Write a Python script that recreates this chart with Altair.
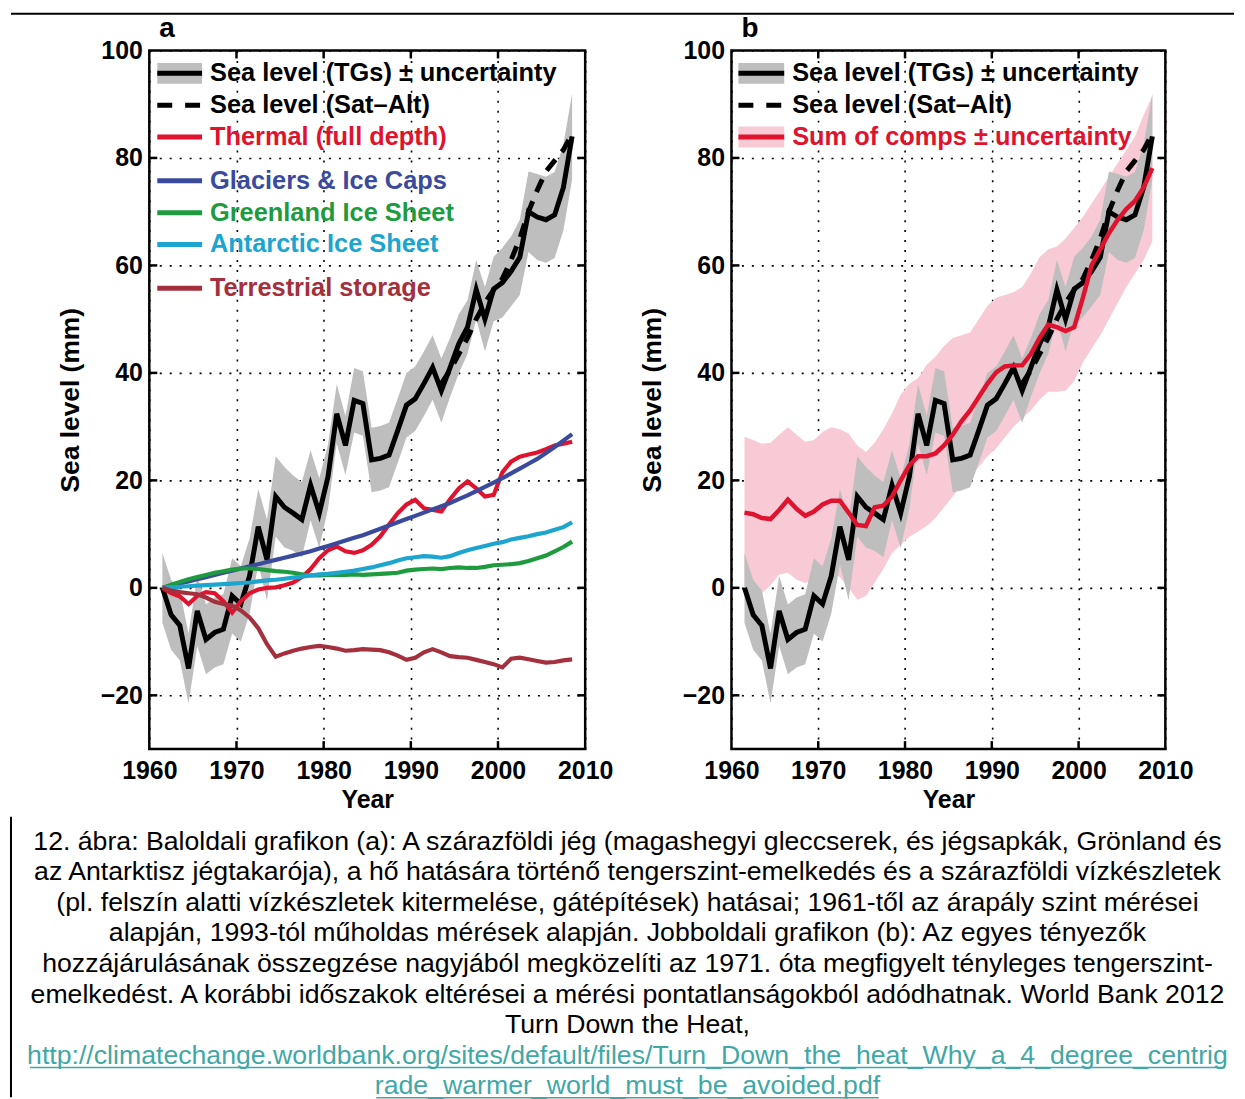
import altair as alt
import pandas as pd

# ---------------- data ----------------
years = list(range(1961, 2009))

tg = [0.0, -5.0, -7.0, -15.0, -4.3, -9.6, -8.3, -7.7, -1.5, -3.0,
      2.2, 11.4, 5.2, 17.0, 15.0, 13.9, 12.7, 19.1, 13.9, 20.7,
      32.4, 26.5, 34.9, 34.3, 23.8, 24.1, 24.7, 29.3, 34.0, 35.2,
      38.0, 41.0, 36.7, 41.0, 45.4, 48.5, 55.5, 50.0, 55.6, 56.8,
      58.9, 61.5, 70.0, 69.0, 68.5, 69.4, 74.5, 84.0]
tg_unc = [6.5, 6.5, 6.5, 6.5, 6.5, 6.5, 6.5, 6.5, 7.0, 7.0,
          7.0, 7.0, 7.5, 7.5, 7.5, 7.0, 7.0, 6.5, 6.5, 6.0,
          5.5, 5.5, 6.0, 6.0, 6.0, 6.0, 6.0, 6.0, 6.0, 6.0,
          6.0, 6.0, 6.0, 5.5, 5.5, 5.0, 5.5, 6.0, 6.0, 6.5,
          6.5, 7.0, 7.5, 8.0, 8.0, 8.0, 8.0, 8.0]

sat_years = list(range(1993, 2009))
sat = [38.0, 40.5, 43.5, 46.5, 50.0, 53.0, 55.5, 57.5, 61.0, 65.0,
       70.0, 74.0, 77.5, 79.5, 81.5, 84.5]

thermal = [0.0, -1.0, -1.6, -3.0, -1.5, -0.8, -1.0, -2.5, -4.6, -2.5,
           -1.0, -0.3, 0.0, 0.1, 0.5, 1.0, 2.0, 3.5, 5.5, 7.0,
           7.7, 6.8, 6.5, 7.0, 8.0, 9.6, 11.8, 13.9, 15.5, 16.4,
           14.8, 14.5, 14.2, 16.5, 18.5, 19.8, 18.5, 17.0, 17.3, 21.5,
           23.5, 24.4, 24.8, 25.2, 25.8, 26.5, 26.8, 27.2]
glaciers = [0.0, 0.4, 0.8, 1.2, 1.6, 2.0, 2.4, 2.8, 3.2, 3.6,
            4.0, 4.4, 4.8, 5.2, 5.6, 6.0, 6.4, 6.8, 7.3, 7.8,
            8.3, 8.8, 9.3, 9.8, 10.4, 11.0, 11.6, 12.2, 12.8, 13.4,
            14.0, 14.6, 15.2, 15.8, 16.5, 17.2, 18.0, 18.8, 19.6, 20.4,
            21.3, 22.2, 23.1, 24.0, 25.1, 26.2, 27.4, 28.6]
greenland = [0.0, 0.6, 1.1, 1.6, 2.0, 2.4, 2.8, 3.1, 3.4, 3.6,
             3.6, 3.5, 3.3, 3.1, 3.0, 2.8, 2.5, 2.3, 2.3, 2.4,
             2.4, 2.4, 2.5, 2.4, 2.5, 2.6, 2.7, 2.8, 3.2, 3.4,
             3.5, 3.6, 3.5, 3.7, 3.8, 3.7, 3.7, 3.9, 4.2, 4.3,
             4.4, 4.6, 5.0, 5.5, 6.0, 6.8, 7.6, 8.6]
antarctic = [0.0, 0.1, 0.2, 0.3, 0.4, 0.5, 0.6, 0.7, 0.8, 0.9,
             1.0, 1.2, 1.4, 1.5, 1.7, 1.9, 2.1, 2.3, 2.5, 2.6,
             2.8, 3.0, 3.2, 3.5, 3.8, 4.2, 4.6, 5.1, 5.5, 5.7,
             5.9, 5.8, 5.6, 5.9, 6.5, 7.0, 7.4, 7.8, 8.2, 8.5,
             9.0, 9.3, 9.6, 10.0, 10.3, 10.8, 11.3, 12.2]
terrestrial = [0.0, -0.5, -0.8, -1.0, -1.2, -1.8, -2.6, -3.0, -3.3, -4.2,
               -5.5, -7.5, -10.5, -12.8, -12.2, -11.7, -11.3, -11.0, -10.8, -11.0,
               -11.3, -11.7, -11.6, -11.4, -11.5, -11.6, -12.0, -12.6, -13.4, -13.0,
               -12.0, -11.4, -12.0, -12.7, -12.9, -13.0, -13.4, -13.8, -14.2, -14.8,
               -13.2, -13.0, -13.3, -13.6, -13.9, -13.8, -13.5, -13.3]

comps_sum = [14.0, 13.7, 13.0, 12.8, 14.5, 16.4, 14.7, 13.4, 14.2, 15.5,
             16.2, 16.2, 14.0, 11.7, 11.5, 15.0, 15.3, 17.0, 20.0, 22.8,
             24.5, 24.5, 25.0, 26.5, 28.5, 31.0, 33.0, 35.5, 38.0, 40.1,
             41.2, 41.4, 41.4, 43.5, 46.5, 49.0, 48.5, 47.8, 48.5, 54.0,
             60.0, 63.0, 66.0, 68.5, 70.5, 72.0, 74.5, 78.1]
comps_lo = [-0.5, -0.8, -1.0, 0.5, 2.5, 2.8, 1.5, 0.9, 1.5, 2.5,
            2.8, 2.0, 0.0, -2.2, -1.5, 1.0, 3.5, 6.5, 8.0, 9.5,
            10.5, 11.5, 13.0, 15.0, 17.0, 19.0, 20.7, 22.5, 24.5, 26.0,
            28.0, 30.0, 31.5, 33.0, 35.0, 36.5, 36.5, 36.7, 38.5, 42.0,
            44.5, 47.0, 50.0, 53.0, 56.0, 58.5, 61.0, 64.5]
comps_hi = [28.1, 27.5, 26.8, 27.0, 28.5, 29.9, 28.5, 27.2, 27.5, 29.0,
            29.9, 29.5, 28.7, 26.5, 25.3, 27.0, 29.5, 32.5, 36.0, 38.0,
            39.0, 41.5, 43.0, 45.0, 46.5, 47.0, 47.5, 50.0, 52.5, 54.0,
            54.5, 55.0, 56.0, 58.5, 61.5, 63.0, 63.5, 65.0, 67.0, 69.0,
            71.5, 74.0, 76.5, 79.0, 81.5, 84.0, 88.0, 91.5]

X_TICKS = [1960, 1970, 1980, 1990, 2000, 2010]
Y_TICKS = [-20, 0, 20, 40, 60, 80, 100]
INNER_X = [1970, 1980, 1990, 2000]
INNER_Y = [-20, 0, 20, 40, 60, 80]

LEGEND_A = ["Sea level (TGs) \u00b1 uncertainty", "Sea level (Sat\u2013Alt)",
            "Thermal (full depth)", "Glaciers & Ice Caps", "Greenland Ice Sheet",
            "Antarctic Ice Sheet", "Terrestrial storage"]
LEGEND_B = ["Sea level (TGs) \u00b1 uncertainty", "Sea level (Sat\u2013Alt)",
            "Sum of comps \u00b1 uncertainty"]

CAPTION = [
    "12. \u00e1bra: Baloldali grafikon (a): A sz\u00e1razf\u00f6ldi j\u00e9g (magashegyi gleccserek, \u00e9s j\u00e9gsapk\u00e1k, Gr\u00f6nland \u00e9s",
    "az Antarktisz j\u00e9gtakar\u00f3ja), a h\u0151 hat\u00e1s\u00e1ra t\u00f6rt\u00e9n\u0151 tengerszint-emelked\u00e9s \u00e9s a sz\u00e1razf\u00f6ldi v\u00edzk\u00e9szletek",
    "(pl. felsz\u00edn alatti v\u00edzk\u00e9szletek kitermel\u00e9se, g\u00e1t\u00e9p\u00edt\u00e9sek) hat\u00e1sai; 1961-t\u0151l az \u00e1rap\u00e1ly szint m\u00e9r\u00e9sei",
    "alapj\u00e1n, 1993-t\u00f3l m\u0171holdas m\u00e9r\u00e9sek alapj\u00e1n. Jobboldali grafikon (b): Az egyes t\u00e9nyez\u0151k",
    "hozz\u00e1j\u00e1rul\u00e1s\u00e1nak \u00f6sszegz\u00e9se nagyj\u00e1b\u00f3l megk\u00f6zel\u00edti az 1971. \u00f3ta megfigyelt t\u00e9nyleges tengerszint-",
    "emelked\u00e9st. A kor\u00e1bbi id\u0151szakok elt\u00e9r\u00e9sei a m\u00e9r\u00e9si pontatlans\u00e1gokb\u00f3l ad\u00f3dhatnak. World Bank 2012",
    "Turn Down the Heat,",
]
LINK = [
    "http://climatechange.worldbank.org/sites/default/files/Turn_Down_the_heat_Why_a_4_degree_centrig",
    "rade_warmer_world_must_be_avoided.pdf",
]

# ---------------- styling ----------------
FONT = "Liberation Sans"
RED = "#E0132E"
BLUE = "#3A4A9C"
GREEN = "#1E9B3E"
CYAN = "#1CA5CF"
BROWN = "#A3303C"
GREY = "#BEBEBE"
PINK = "#F8CAD5"
TEAL = "#3FA8A6"

W_A, W_B, H = 438, 436, 702
LINE_H = 30.75
CAP_FS = 26.8

XS = alt.Scale(domain=[1960, 2010], nice=False, zero=False)
YS = alt.Scale(domain=[-30, 100], nice=False, zero=False)


def x_axis():
    return alt.Axis(values=X_TICKS, format="d", title="Year",
                    labelFont=FONT, labelFontSize=25, labelFontWeight="bold",
                    labelColor="black", labelPadding=10, labelFlush=False,
                    labelOverlap=False, ticks=False, tickSize=0, domain=False,
                    grid=True, gridColor="black", gridDash=[2, 8], gridWidth=1.6,
                    gridOpacity=1, titleFont=FONT, titleFontSize=25,
                    titleFontWeight="bold", titleColor="black", titlePadding=4)


def y_axis():
    return alt.Axis(values=Y_TICKS, format="d", title="Sea level (mm)",
                    labelFont=FONT, labelFontSize=25, labelFontWeight="bold",
                    labelColor="black", labelPadding=7, labelOverlap=False,
                    ticks=False, tickSize=0, domain=False,
                    grid=True, gridColor="black", gridDash=[2, 8], gridWidth=1.6,
                    gridOpacity=1, titleFont=FONT, titleFontSize=26.5,
                    titleFontWeight="bold", titleColor="black", titlePadding=16)


def X(field="x"):
    return alt.X(f"{field}:Q", scale=XS, axis=x_axis())


def Y(field):
    return alt.Y(f"{field}:Q", scale=YS, axis=y_axis())


df = pd.DataFrame({
    "year": years, "tg": tg, "unc": tg_unc, "thermal": thermal,
    "glaciers": glaciers, "greenland": greenland, "antarctic": antarctic,
    "terrestrial": terrestrial, "sum": comps_sum, "slo": comps_lo, "shi": comps_hi,
})
sat_df = pd.DataFrame({"year": sat_years, "sat": sat})

base = alt.Chart(df).transform_calculate(
    x="datum.year + 0.5", lo="datum.tg - datum.unc", hi="datum.tg + datum.unc")
sat_base = alt.Chart(sat_df).transform_calculate(x="datum.year + 0.5")


def line(field, color, width=4.2):
    return base.mark_line(color=color, strokeWidth=width).encode(x=X(), y=Y(field))


def tg_layers():
    band = base.mark_area(color=GREY, opacity=1).encode(x=X(), y=Y("lo"), y2="hi:Q")
    black = line("tg", "black", 5)
    dashed = sat_base.mark_line(color="black", strokeWidth=5, strokeDash=[14, 10]).encode(
        x=X(), y=Y("sat"))
    return band, black, dashed


def inner_ticks(width):
    xt = alt.Chart(pd.DataFrame({"t": INNER_X}))
    yt = alt.Chart(pd.DataFrame({"t": INNER_Y}))
    rule = dict(color="black", strokeWidth=2.5)
    return [
        xt.mark_rule(**rule).encode(x=X("t"), y=alt.value(H - 8), y2=alt.value(H)),
        xt.mark_rule(**rule).encode(x=X("t"), y=alt.value(0), y2=alt.value(8)),
        yt.mark_rule(**rule).encode(y=Y("t"), x=alt.value(0), x2=alt.value(8)),
        yt.mark_rule(**rule).encode(y=Y("t"), x=alt.value(width - 8), x2=alt.value(width)),
    ]


def legend_row(label, color, y, x0, x1, xt, patch=None, dash=None, width=5):
    d = alt.Chart(pd.DataFrame({"label": [label]}))
    out = []
    if patch:
        out.append(d.mark_rect(color=patch).encode(
            x=alt.value(x0), x2=alt.value(x1), y=alt.value(y - 10.5), y2=alt.value(y + 10.5)))
    kw = dict(color=color, strokeWidth=width)
    if dash:
        kw["strokeDash"] = dash
    out.append(d.mark_rule(**kw).encode(x=alt.value(x0), x2=alt.value(x1), y=alt.value(y)))
    out.append(d.mark_text(align="left", baseline="middle", font=FONT, fontSize=25.5,
                           fontWeight="bold", color=color).encode(
        x=alt.value(xt), y=alt.value(y), text="label:N"))
    return out


def panel_label(letter):
    return alt.Chart(pd.DataFrame({"label": [letter]})).mark_text(
        align="left", baseline="alphabetic", font=FONT, fontSize=28, fontWeight="bold",
        color="black").encode(x=alt.value(10), y=alt.value(-14), text="label:N")


# ---------------- panel a ----------------
band_a, black_a, dashed_a = tg_layers()
layers_a = [band_a, black_a, dashed_a,
            line("thermal", RED), line("glaciers", BLUE), line("greenland", GREEN),
            line("antarctic", CYAN), line("terrestrial", BROWN)]
layers_a += inner_ticks(W_A)
rows_a = [(LEGEND_A[0], "black", 23, GREY, None), (LEGEND_A[1], "black", 55, None, [15, 13]),
          (LEGEND_A[2], RED, 87, None, None), (LEGEND_A[3], BLUE, 131, None, None),
          (LEGEND_A[4], GREEN, 163, None, None), (LEGEND_A[5], CYAN, 195, None, None),
          (LEGEND_A[6], BROWN, 239, None, None)]
for lab, col, yy, patch, dash in rows_a:
    layers_a += legend_row(lab, col, yy, 8, 53, 61, patch=patch, dash=dash)
layers_a.append(panel_label("a"))

# caption block and frame lines (placed relative to panel a)
one = alt.Chart(pd.DataFrame({"k": [0]}))
CAP_TOP = 782
layers_a.append(one.mark_text(align="center", baseline="top", font=FONT, fontSize=CAP_FS,
                              lineHeight=LINE_H, color="black").encode(
    x=alt.value(480.5), y=alt.value(CAP_TOP), text=alt.value(CAPTION)))
layers_a.append(one.mark_text(align="center", baseline="top", font=FONT, fontSize=CAP_FS,
                              lineHeight=LINE_H, color=TEAL).encode(
    x=alt.value(480.5), y=alt.value(CAP_TOP + 7 * LINE_H), text=alt.value(LINK)))
layers_a.append(one.mark_rule(color=TEAL, strokeWidth=1.5).encode(
    x=alt.value(-120), x2=alt.value(1081), y=alt.value(1022)))
layers_a.append(one.mark_rule(color=TEAL, strokeWidth=1.5).encode(
    x=alt.value(228), x2=alt.value(733), y=alt.value(1052.5)))
layers_a.append(one.mark_rule(color="black", strokeWidth=2).encode(
    x=alt.value(-139), x2=alt.value(1090), y=alt.value(-37)))
layers_a.append(one.mark_rule(color="black", strokeWidth=2).encode(
    x=alt.value(-139), y=alt.value(770), y2=alt.value(1052)))

panel_a = alt.layer(*layers_a).properties(width=W_A, height=H)

# ---------------- panel b ----------------
band_b, black_b, dashed_b = tg_layers()
pink = base.mark_area(color=PINK, opacity=1).encode(x=X(), y=Y("slo"), y2="shi:Q")
layers_b = [pink, band_b, black_b, dashed_b, line("sum", RED, 4.5)]
layers_b += inner_ticks(W_B)
rows_b = [(LEGEND_B[0], "black", 23, GREY, None), (LEGEND_B[1], "black", 55, None, [15, 13]),
          (LEGEND_B[2], RED, 87, PINK, None)]
for lab, col, yy, patch, dash in rows_b:
    layers_b += legend_row(lab, col, yy, 7, 53, 61, patch=patch, dash=dash)
layers_b.append(panel_label("b"))
panel_b = alt.layer(*layers_b).properties(width=W_B, height=H)

chart = alt.hconcat(panel_a, panel_b, spacing=147, bounds="flush").properties(
    padding=0
).configure(font=FONT).configure_view(stroke="black", strokeWidth=2.5)

chart.save("out.html", embed_options={"renderer": "svg", "actions": False})
